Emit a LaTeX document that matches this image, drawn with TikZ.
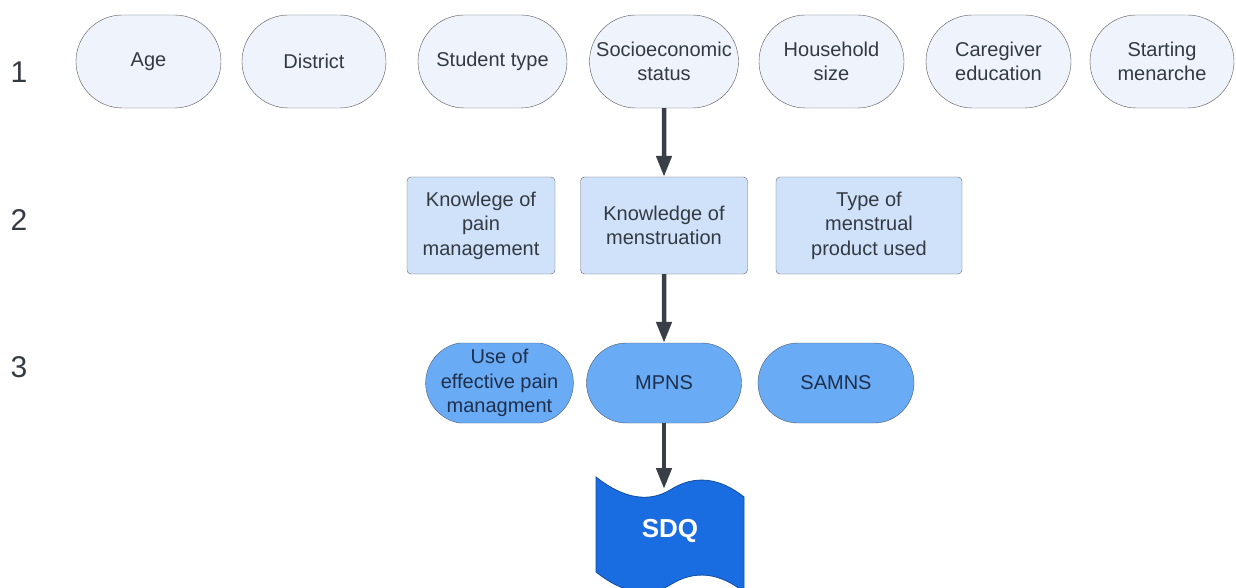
\documentclass[tikz,border=0pt]{standalone}
\usepackage{fontspec}
\setmainfont{Liberation Sans}
\usepackage{xcolor}
\usetikzlibrary{arrows.meta, positioning, shapes.misc}
\definecolor{lvlone}{HTML}{EEF3FC}
\definecolor{lvltwo}{HTML}{CFE2FA}
\definecolor{lvlthree}{HTML}{69ACF5}
\definecolor{sdqblue}{HTML}{1A6DE0}
\definecolor{txtgray}{HTML}{343A42}
\definecolor{txtnavy}{HTML}{1F2F4C}
\definecolor{arrgray}{HTML}{3A3F47}

\begin{document}
\begin{tikzpicture}[x=1pt, y=-1pt,
  factor/.style={rounded rectangle, draw=black!65, fill=lvlone, minimum height=93pt,
    align=center, text=txtgray, font=\fontsize{20}{24.5}\selectfont, inner sep=2pt},
  knowbox/.style={draw=black!60, fill=lvltwo, rounded corners=4pt, minimum height=97pt,
    align=center, text=txtgray, font=\fontsize{20}{24.5}\selectfont, inner sep=2pt},
  outcome/.style={rounded rectangle, draw=txtnavy!80, fill=lvlthree, minimum height=80pt,
    align=center, text=txtnavy, font=\fontsize{20}{24.5}\selectfont, inner sep=1pt},
  arr/.style={line width=4.5pt, draw=arrgray, -{Triangle[length=21pt,width=15pt]}},
  lvl/.style={text=txtgray, font=\fontsize{30}{30}\selectfont}]
\useasboundingbox (0,0) rectangle (1236,588);

% Level labels
\node[lvl] (one) at (19,72) {1};
\node[lvl] (two) at (19,220) {2};
\node[lvl] (three) at (19,367) {3};

% Level 1: background factors
\foreach \nm/\x/\w/\txt in {age/148.5/149/Age, dist/314/148/District,
    stype/492.5/153/Student type, socio/664/153/{Socioeconomic\\status},
    house/831.5/149/{Household\\size}, care/998.5/149/{Caregiver\\education},
    menar/1162/148/{Starting\\menarche}} {
  \node[factor, minimum width=\w pt] (\nm) at (\x,61.5) {\txt};
}

% Level 2: knowledge and products
\node[knowbox, minimum width=148pt] (kpain) at (481,225.5) {Knowlege of\\pain\\management};
\node[knowbox, minimum width=167pt] (kmens) at (664,225.5) {Knowledge of\\menstruation};
\node[knowbox, minimum width=186pt] (ptype) at (869,225.5) {Type of\\menstrual\\product used};

% Level 3: needs scores
\node[outcome, minimum width=147pt, rounded rectangle arc length=160, inner xsep=-3pt] (epain) at (499.5,383) {Use of\\effective pain\\managment};
\node[outcome, minimum width=157pt] (mpns) at (664,383) {MPNS};
\node[outcome, minimum width=158pt] (samns) at (836,383) {SAMNS};

% Outcome: SDQ tape shape
\filldraw[fill=sdqblue, draw=sdqblue!70!black, line width=0.8pt]
  (596,477) .. controls (625,500) and (650,502) .. (670,490)
  .. controls (695,474) and (720,478) .. (744,497)
  -- (744,592) .. controls (720,573) and (695,569) .. (670,585)
  .. controls (650,597) and (625,595) .. (596,572) -- cycle;
\node[text=white, font=\fontsize{26}{26}\selectfont\bfseries] (sdq) at (670,531) {SDQ};
\coordinate (sdqtop) at (664,489);

% Connectors
\draw[arr] (socio) -- (kmens);
\draw[arr] (kmens) -- (mpns);
\draw[arr] (mpns) -- (sdqtop);
\end{tikzpicture}
\end{document}
